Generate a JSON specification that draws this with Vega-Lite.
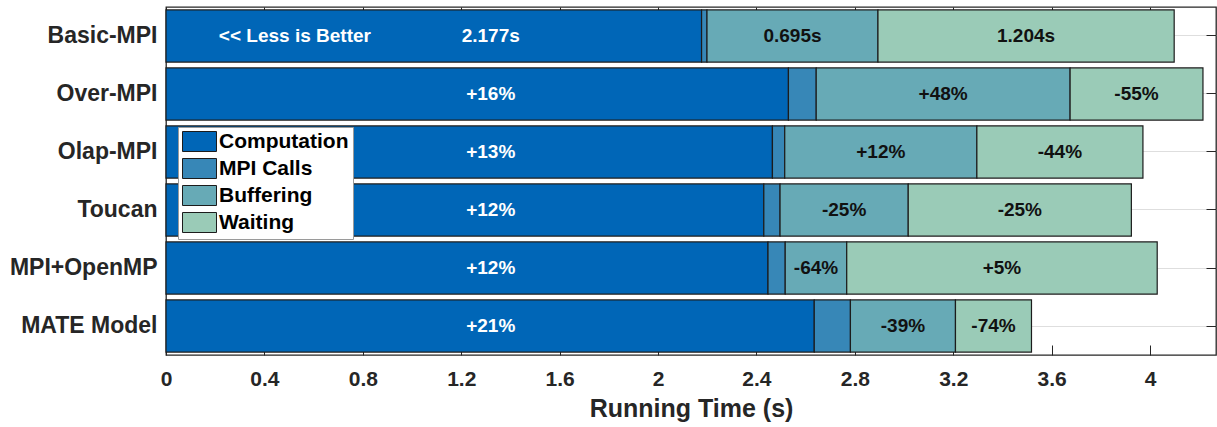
{
  "$schema": "https://vega.github.io/schema/vega-lite/v6.json",
  "width": 1050,
  "height": 348,
  "autosize": {"type": "none"},
  "padding": {"left": 166, "top": 7, "right": 1, "bottom": 72},
  "background": "white",
  "config": {
    "view": {"stroke": "#262626", "strokeWidth": 1.3},
    "font": "Liberation Sans"
  },
  "datasets": {
    "runs": [
      {"system": "Basic-MPI", "segment": "Computation", "value": 2.177, "label": "2.177s"},
      {"system": "Basic-MPI", "segment": "MPI Calls", "value": 0.022, "label": ""},
      {"system": "Basic-MPI", "segment": "Buffering", "value": 0.695, "label": "0.695s"},
      {"system": "Basic-MPI", "segment": "Waiting", "value": 1.204, "label": "1.204s"},
      {"system": "Over-MPI", "segment": "Computation", "value": 2.53, "label": "+16%"},
      {"system": "Over-MPI", "segment": "MPI Calls", "value": 0.113, "label": ""},
      {"system": "Over-MPI", "segment": "Buffering", "value": 1.032, "label": "+48%"},
      {"system": "Over-MPI", "segment": "Waiting", "value": 0.54, "label": "-55%"},
      {"system": "Olap-MPI", "segment": "Computation", "value": 2.465, "label": "+13%"},
      {"system": "Olap-MPI", "segment": "MPI Calls", "value": 0.05, "label": ""},
      {"system": "Olap-MPI", "segment": "Buffering", "value": 0.781, "label": "+12%"},
      {"system": "Olap-MPI", "segment": "Waiting", "value": 0.675, "label": "-44%"},
      {"system": "Toucan", "segment": "Computation", "value": 2.43, "label": "+12%"},
      {"system": "Toucan", "segment": "MPI Calls", "value": 0.066, "label": ""},
      {"system": "Toucan", "segment": "Buffering", "value": 0.521, "label": "-25%"},
      {"system": "Toucan", "segment": "Waiting", "value": 0.907, "label": "-25%"},
      {"system": "MPI+OpenMP", "segment": "Computation", "value": 2.447, "label": "+12%"},
      {"system": "MPI+OpenMP", "segment": "MPI Calls", "value": 0.07, "label": ""},
      {"system": "MPI+OpenMP", "segment": "Buffering", "value": 0.25, "label": "-64%"},
      {"system": "MPI+OpenMP", "segment": "Waiting", "value": 1.262, "label": "+5%"},
      {"system": "MATE Model", "segment": "Computation", "value": 2.635, "label": "+21%"},
      {"system": "MATE Model", "segment": "MPI Calls", "value": 0.147, "label": ""},
      {"system": "MATE Model", "segment": "Buffering", "value": 0.427, "label": "-39%"},
      {"system": "MATE Model", "segment": "Waiting", "value": 0.309, "label": "-74%"}
    ],
    "notes": [
      {"system": "Basic-MPI", "note": "<< Less is Better"}
    ]
  },
  "layer": [
    {
      "data": {"name": "runs"},
      "transform": [
        {"stack": "value", "groupby": ["system"], "as": ["x0", "x1"]}
      ],
      "mark": {"type": "bar", "stroke": "#1c1c1c", "strokeWidth": 1.2},
      "encoding": {
        "y": {
          "field": "system",
          "type": "nominal",
          "sort": ["Basic-MPI", "Over-MPI", "Olap-MPI", "Toucan", "MPI+OpenMP", "MATE Model"],
          "scale": {"paddingInner": 0.1, "paddingOuter": 0.05},
          "axis": {
            "orient": "left",
            "title": null,
            "domain": false,
            "ticks": false,
            "grid": true,
            "gridColor": "#dedede",
            "gridWidth": 1,
            "bandPosition": 0.5,
            "labelFont": "Liberation Sans",
            "labelFontWeight": "bold",
            "labelFontSize": 23,
            "labelColor": "#262626",
            "labelPadding": 9
          }
        },
        "x": {
          "field": "x0",
          "type": "quantitative",
          "scale": {"domain": [0, 4.268], "nice": false, "zero": true},
          "axis": {
            "orient": "bottom",
            "title": "Running Time (s)",
            "titleFont": "Liberation Sans",
            "titleFontWeight": "bold",
            "titleFontSize": 25,
            "titleColor": "#262626",
            "titlePadding": 7,
            "values": [0, 0.4, 0.8, 1.2, 1.6, 2, 2.4, 2.8, 3.2, 3.6, 4],
            "labelExpr": "'' + round(datum.value * 10) / 10",
            "domain": false,
            "ticks": false,
            "grid": false,
            "labelFont": "Liberation Sans",
            "labelFontWeight": "bold",
            "labelFontSize": 21,
            "labelColor": "#262626",
            "labelPadding": 13,
            "labelFlush": false
          }
        },
        "x2": {"field": "x1"},
        "color": {
          "field": "segment",
          "type": "nominal",
          "sort": ["Computation", "MPI Calls", "Buffering", "Waiting"],
          "scale": {
            "domain": ["Computation", "MPI Calls", "Buffering", "Waiting"],
            "range": ["#0066B7", "#3787B7", "#67AAB6", "#9ACBB7"]
          },
          "legend": {
            "orient": "none",
            "legendX": 12,
            "legendY": 120,
            "title": null,
            "fillColor": "white",
            "strokeColor": "#9a9a9a",
            "padding": 4,
            "cornerRadius": 0,
            "symbolType": "M-1.7,-1H1.7V1H-1.7Z",
            "symbolSize": 400,
            "symbolOffset": 7,
            "symbolStrokeColor": "#1c1c1c",
            "symbolStrokeWidth": 1,
            "symbolOpacity": 1,
            "labelFont": "Liberation Sans",
            "labelFontWeight": "bold",
            "labelFontSize": 21,
            "labelColor": "black",
            "labelOffset": 9,
            "rowPadding": 2
          }
        }
      }
    },
    {
      "data": {"name": "runs"},
      "transform": [
        {"stack": "value", "groupby": ["system"], "as": ["x0", "x1"]},
        {"filter": "datum.segment === 'Buffering' || datum.segment === 'Waiting'"},
        {"fold": ["x0", "x1"], "as": ["edge", "xv"]},
        {"aggregate": [{"op": "mean", "field": "xv", "as": "mid"}], "groupby": ["system", "segment", "label"]}
      ],
      "mark": {"type": "text", "font": "Liberation Sans", "fontWeight": "bold", "fontSize": 19, "color": "#111111", "align": "center", "baseline": "middle"},
      "encoding": {
        "y": {
          "field": "system",
          "type": "nominal",
          "sort": ["Basic-MPI", "Over-MPI", "Olap-MPI", "Toucan", "MPI+OpenMP", "MATE Model"],
          "axis": {"orient": "right", "title": null, "labels": false, "domain": false, "grid": false, "ticks": true, "tickSize": -10, "tickColor": "#262626", "tickWidth": 1, "bandPosition": 0.5}
        },
        "x": {
          "field": "mid",
          "type": "quantitative",
          "axis": {"orient": "top", "title": null, "labels": false, "domain": false, "grid": false, "ticks": true, "tickSize": -10, "tickColor": "#262626", "tickWidth": 1, "values": [0, 0.4, 0.8, 1.2, 1.6, 2, 2.4, 2.8, 3.2, 3.6, 4]}
        },
        "text": {"field": "label"}
      }
    },
    {
      "data": {"name": "runs"},
      "transform": [
        {"filter": "datum.segment === 'Computation'"}
      ],
      "mark": {"type": "text", "font": "Liberation Sans", "fontWeight": "bold", "fontSize": 19, "color": "white", "align": "center", "baseline": "middle"},
      "encoding": {
        "y": {
          "field": "system",
          "type": "nominal",
          "sort": ["Basic-MPI", "Over-MPI", "Olap-MPI", "Toucan", "MPI+OpenMP", "MATE Model"],
          "axis": {"orient": "left", "title": null, "labels": false, "domain": false, "grid": false, "ticks": true, "tickSize": -10, "tickColor": "#262626", "tickWidth": 1, "bandPosition": 0.5}
        },
        "x": {
          "datum": 1.32,
          "type": "quantitative",
          "axis": {"orient": "bottom", "title": null, "labels": false, "domain": false, "grid": false, "ticks": true, "tickSize": -10, "tickColor": "#262626", "tickWidth": 1, "values": [0, 0.4, 0.8, 1.2, 1.6, 2, 2.4, 2.8, 3.2, 3.6, 4]}
        },
        "text": {"field": "label"}
      }
    },
    {
      "data": {"name": "notes"},
      "mark": {"type": "text", "font": "Liberation Sans", "fontWeight": "bold", "fontSize": 19, "color": "white", "align": "center", "baseline": "middle"},
      "encoding": {
        "y": {
          "field": "system",
          "type": "nominal",
          "sort": ["Basic-MPI", "Over-MPI", "Olap-MPI", "Toucan", "MPI+OpenMP", "MATE Model"],
          "axis": null
        },
        "x": {"datum": 0.524, "type": "quantitative", "axis": null},
        "text": {"field": "note"}
      }
    }
  ],
  "resolve": {"axis": {"x": "independent", "y": "independent"}}
}
